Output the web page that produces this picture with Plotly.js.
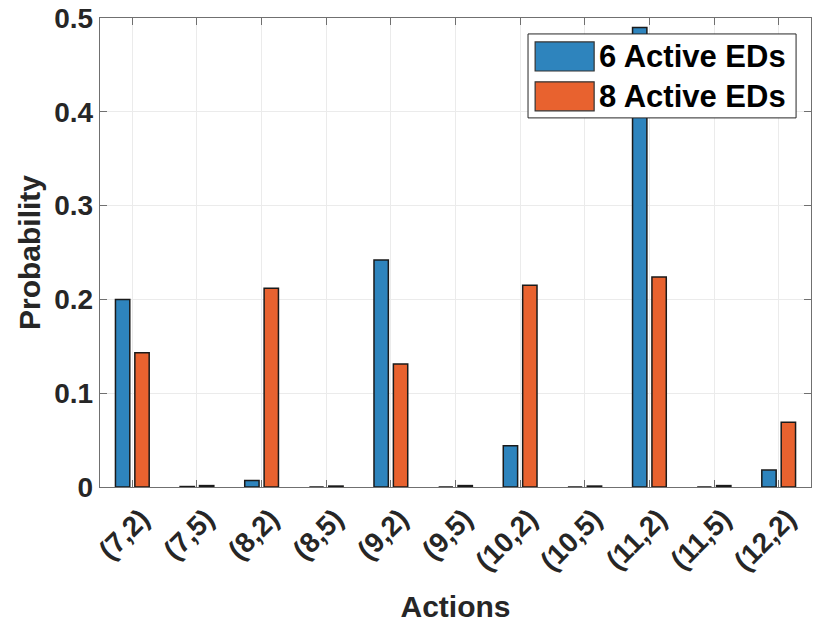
<!DOCTYPE html>
<html>
<head>
<meta charset="utf-8">
<script src="https://cdn.plot.ly/plotly-3.0.1.min.js"></script>
<style>
  html, body { margin:0; padding:0; background:#fff; }
  #chart { width:830px; height:623px; }
</style>
</head>
<body>
<div id="chart"></div>
<script>
// categories (actions) and probabilities
const actions = ['(7,2)', '(7,5)', '(8,2)', '(8,5)', '(9,2)', '(9,5)',
                 '(10,2)', '(10,5)', '(11,2)', '(11,5)', '(12,2)'];
const eds6 = [0.200, 0.0005, 0.007, 0.0, 0.242, 0.0, 0.044, 0.0, 0.490, 0.0, 0.018];
const eds8 = [0.143, 0.0015, 0.212, 0.001, 0.131, 0.0015, 0.215, 0.001, 0.224, 0.0015, 0.069];
const series_names = ['6 Active EDs', '8 Active EDs'];
const series_colors = ['#2e84bd', '#e8622f'];
const y_ticks = [0, 0.1, 0.2, 0.3, 0.4, 0.5];
const y_labels = ['0', '0.1', '0.2', '0.3', '0.4', '0.5'];

const font_main = '"Liberation Sans", Arial, Helvetica, sans-serif';
const ink = '#262626';

let plot_traces = [];
let xs = actions.map((a, i) => i + 1);

[eds6, eds8].forEach((ys, k) => {
    plot_traces.push({
        type: 'bar', name: series_names[k],
        x: xs, y: ys,
        marker: {color: series_colors[k], line: {color: '#1a1a1a', width: 1.5}},
    });
});

// MATLAB-like legend: big swatches, drawn as shapes over the bars
let shapes = [];
let annotations = [];
shapes.push({type: 'rect', xref: 'paper', yref: 'paper', layer: 'above',
             x0: 0.602, x1: 0.979, y0: 0.787, y1: 0.966,
             fillcolor: '#fff', line: {color: ink, width: 1}});
let rows = [[0.949, 0.887], [0.864, 0.802]];
rows.forEach((r, k) => {
    shapes.push({type: 'rect', xref: 'paper', yref: 'paper', layer: 'above',
                 x0: 0.612, x1: 0.695, y0: r[1], y1: r[0],
                 fillcolor: series_colors[k], line: {color: '#333', width: 1.2}});
    annotations.push({xref: 'paper', yref: 'paper', x: 0.699, y: (r[0] + r[1]) / 2,
                      xanchor: 'left', yanchor: 'middle', showarrow: false,
                      text: series_names[k],
                      font: {family: font_main, size: 31, color: '#000', weight: 'bold'}});
});

let plot_layout = {
    width: 830, height: 623,
    margin: {l: 100, r: 19, t: 18, b: 136},
    paper_bgcolor: '#fff',
    plot_bgcolor: '#fff',
    barmode: 'group',
    bargap: 0.40,
    bargroupgap: 0.26,
    font: {family: font_main, color: ink, size: 22, weight: 'bold'},
    showlegend: false,
    shapes: shapes,
    annotations: annotations,
    xaxis: {
        range: [0.5, 11.5],
        tickvals: xs, ticktext: actions,
        tickangle: -45,
        ticklabelshift: 9,
        ticklabelstandoff: 3,
        tickfont: {family: font_main, size: 28, color: ink, weight: 'bold'},
        title: {text: 'Actions', standoff: 20,
                font: {family: font_main, size: 30, color: ink, weight: 'bold'}},
        showgrid: true, gridcolor: '#ebebeb', gridwidth: 1,
        showline: true, linecolor: '#707070', linewidth: 1.2, mirror: 'ticks',
        ticks: 'inside', ticklen: 7, tickcolor: '#707070',
        zeroline: false,
    },
    yaxis: {
        range: [0, 0.5],
        tickvals: y_ticks, ticktext: y_labels,
        tickfont: {family: font_main, size: 28, color: ink, weight: 'bold'},
        title: {text: 'Probability', standoff: 4,
                font: {family: font_main, size: 30, color: ink, weight: 'bold'}},
        showgrid: true, gridcolor: '#ebebeb', gridwidth: 1,
        showline: true, linecolor: '#707070', linewidth: 1.2, mirror: 'ticks',
        ticks: 'inside', ticklen: 7, tickcolor: '#707070',
        zeroline: false,
    },
};

Plotly.newPlot(document.getElementById('chart'), plot_traces, plot_layout,
               {displayModeBar: false, staticPlot: true});
</script>
</body>
</html>
